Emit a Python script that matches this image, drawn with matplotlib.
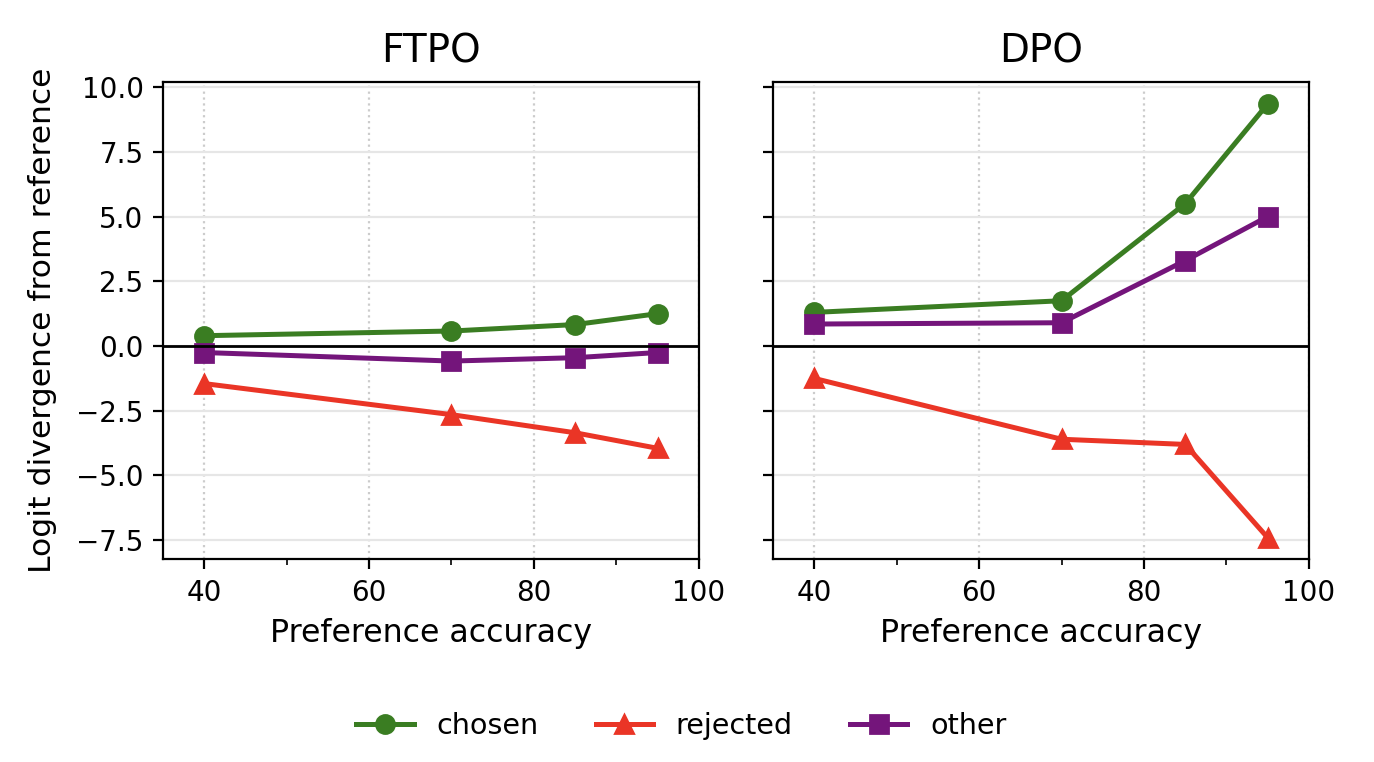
import matplotlib
matplotlib.use("Agg")
import matplotlib.pyplot as plt
from matplotlib.ticker import MultipleLocator

acc = [40, 70, 85, 95]

ftpo_chosen = [0.40, 0.58, 0.83, 1.25]
ftpo_rejected = [-1.45, -2.65, -3.35, -3.95]
ftpo_other = [-0.25, -0.58, -0.45, -0.25]

dpo_chosen = [1.30, 1.75, 5.50, 9.35]
dpo_rejected = [-1.25, -3.60, -3.80, -7.40]
dpo_other = [0.85, 0.90, 3.30, 5.00]

panels = [("FTPO", ftpo_chosen, ftpo_rejected, ftpo_other),
          ("DPO", dpo_chosen, dpo_rejected, dpo_other)]

c_green = "#3a7d22"
c_red = "#ea3526"
c_purple = "#74157b"

fig = plt.figure(figsize=(6.87, 3.81), dpi=200)
ax1 = fig.add_axes([0.1186, 0.266, 0.390, 0.626])
ax2 = fig.add_axes([0.5626, 0.266, 0.390, 0.626], sharey=ax1)

for ax, (name, ch, rj, ot) in zip([ax1, ax2], panels):
    ax.plot(acc, ch, "-o", color=c_green, lw=1.8, ms=6.5, label="chosen")
    ax.plot(acc, rj, "-^", color=c_red, lw=1.8, ms=6.5, label="rejected")
    ax.plot(acc, ot, "-s", color=c_purple, lw=1.8, ms=6.5, label="other")
    ax.axhline(0, color="black", lw=1)
    ax.set_title(name, fontsize=14, pad=7)
    ax.set_xlabel("Preference accuracy", fontsize=11.4)
    ax.set_xlim(35, 100)
    ax.xaxis.set_major_locator(MultipleLocator(20))
    ax.xaxis.set_minor_locator(MultipleLocator(10))
    ax.grid(axis="x", which="major", linestyle=":", color="#cccccc", lw=0.8)
    ax.grid(axis="y", which="major", linestyle="-", color="#e6e6e6", lw=0.8)
    ax.set_axisbelow(True)
    ax.tick_params(labelsize=10)

ax1.set_yticks([-7.5, -5.0, -2.5, 0.0, 2.5, 5.0, 7.5, 10.0])
ax1.set_ylabel("Logit divergence from reference", fontsize=11.3, labelpad=7)
plt.setp(ax2.get_yticklabels(), visible=False)

handles, labels = ax1.get_legend_handles_labels()
fig.legend(handles, labels, loc="center", bbox_to_anchor=(0.496, 0.047),
           ncol=3, frameon=False, fontsize=10.3, columnspacing=2.0)

fig.savefig("out.png", dpi=200)
